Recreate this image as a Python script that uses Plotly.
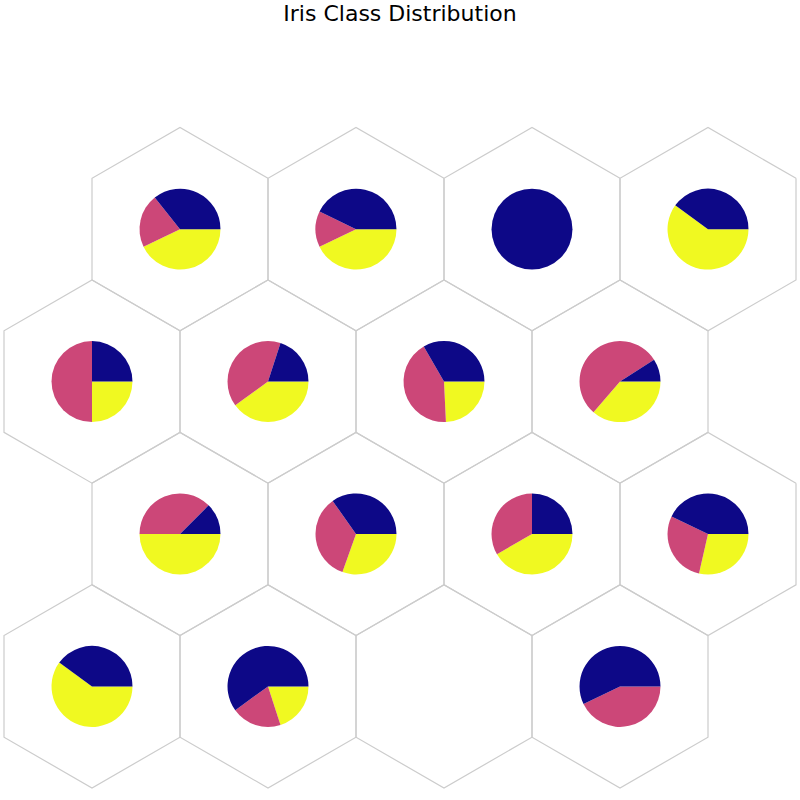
import math
import plotly.graph_objects as go

# ---- data ----
class_names = ["setosa", "versicolor", "virginica"]
class_colors = ["#0d0887", "#cc4778", "#f0f921"]

# SOM grid 4x4, rows counted from the bottom (row 0) to the top (row 3)
grid_cols = [0, 1, 2, 3]
grid_rows = [0, 1, 2, 3]
setosa_counts = [
    [2, 3, 0, 4],    # row 0
    [1, 8, 3, 3],    # row 1
    [1, 1, 11, 1],   # row 2
    [5, 3, 6, 2],    # row 3
]
versicolor_counts = [
    [0, 1, 0, 3],
    [3, 8, 4, 2],
    [2, 2, 14, 6],
    [3, 1, 0, 0],
]
virginica_counts = [
    [3, 1, 0, 0],
    [4, 7, 5, 2],
    [1, 2, 8, 4],
    [6, 3, 0, 3],
]
title_text = "Iris Class Distribution"

# ---- layout geometry ----
W = H = 800
hex_r = 1 / math.sqrt(3)
pie_r = 0.23
x_range = [-92 / 176, (800 - 92) / 176]
y_range = [(686.4 - 800) / 176, 686.4 / 176]


def center(i, j):
    return i + 0.5 * (j % 2), j * math.sqrt(3) / 2


fig = go.Figure()

# hexagons
for j in grid_rows:
    for i in grid_cols:
        cx, cy = center(i, j)
        xs, ys = [], []
        for k in range(7):
            a = math.radians(30 + 60 * k)
            xs.append(cx + hex_r * math.cos(a))
            ys.append(cy + hex_r * math.sin(a))
        fig.add_trace(go.Scatter(x=xs, y=ys, mode="lines",
                                 line=dict(color="#cccccc", width=1.2),
                                 hoverinfo="skip", showlegend=False))

# pies: slices counter-clockwise from 3 o'clock (setosa, versicolor, virginica)
# drawn in Plotly as clockwise from 3 o'clock with the class order reversed
for j in grid_rows:
    for i in grid_cols:
        vals = [setosa_counts[j][i], versicolor_counts[j][i], virginica_counts[j][i]]
        if sum(vals) == 0:
            continue
        cx, cy = center(i, j)
        px = (cx - x_range[0]) / (x_range[1] - x_range[0])
        py = (cy - y_range[0]) / (y_range[1] - y_range[0])
        dx = pie_r / (x_range[1] - x_range[0])
        dy = pie_r / (y_range[1] - y_range[0])
        fig.add_trace(go.Pie(
            labels=class_names[::-1], values=vals[::-1],
            marker=dict(colors=class_colors[::-1], line=dict(width=0)),
            sort=False, direction="clockwise", rotation=90,
            textinfo="none", showlegend=False,
            domain=dict(x=[px - dx, px + dx], y=[py - dy, py + dy]),
        ))

fig.update_layout(
    width=W, height=H,
    margin=dict(l=0, r=0, t=0, b=0),
    paper_bgcolor="white", plot_bgcolor="white",
    xaxis=dict(range=x_range, visible=False, showgrid=False, zeroline=False),
    yaxis=dict(range=y_range, visible=False, showgrid=False, zeroline=False),
    title=dict(text=title_text, x=0.5, xanchor="center",
               y=1 - 13 / 800, yanchor="middle",
               font=dict(family="DejaVu Sans", size=22, color="black")),
)

fig.write_html("out.html")
